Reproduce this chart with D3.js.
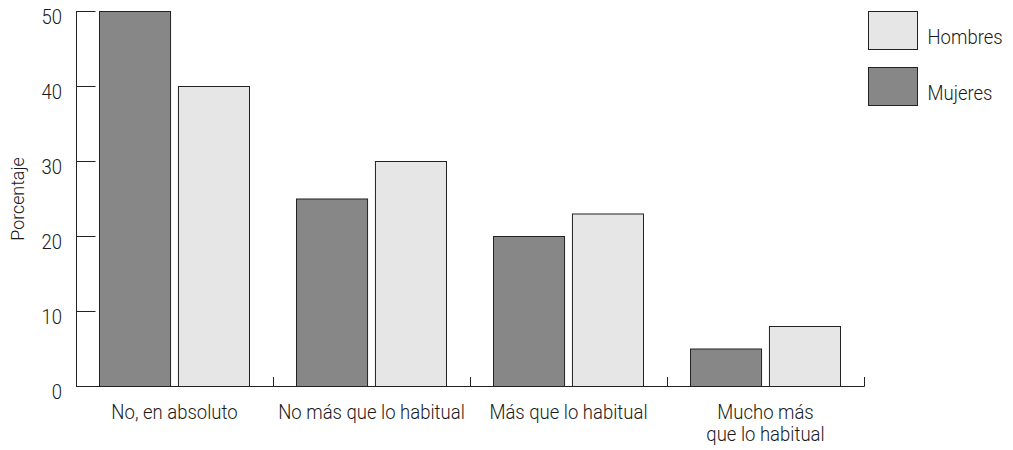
<!DOCTYPE html>
<html><head><meta charset="utf-8">
<script src="https://cdn.jsdelivr.net/npm/d3@7"></script>
<style>
body{margin:0;background:#fff;}
text{font-family:Roboto,"Liberation Sans",sans-serif;font-weight:300;fill:#1a1a1a;}
</style></head>
<body><svg id="c" width="1013" height="450"></svg>
<script>
const categories = [["No, en absoluto"], ["No más que lo habitual"], ["Más que lo habitual"], ["Mucho más", "que lo habitual"]];
const seriesNames = ["Mujeres", "Hombres"];
const mujeres = [50, 25, 20, 5];
const hombres = [40, 30, 23, 8];
const yTicks = [0, 10, 20, 30, 40, 50];
const yLabel = "Porcentaje";
const legendOrder = ["Hombres", "Mujeres"];

(function () {
const colors = {Mujeres: "#878787", Hombres: "#e6e6e6"};
const svg = d3.select("#c");
const mLeft = 76, mRight = 864, mTop = 11, mBottom = 386;
const fs = 19.5, sx = 0.95;

const x0 = d3.scaleBand().domain(d3.range(categories.length)).range([mLeft, mRight]).paddingInner(0).paddingOuter(0);
const x1 = d3.scaleBand().domain(seriesNames).range([23, x0.bandwidth() - 24]).paddingInner(0.1).paddingOuter(0);
const y = d3.scaleLinear().domain([0, 50]).range([mBottom, mTop]);

const data = categories.map((c, i) => ({i, vals: [{k: "Mujeres", v: mujeres[i]}, {k: "Hombres", v: hombres[i]}]}));

svg.append("g").selectAll("g.cat").data(data).join("g").attr("class", "cat")
  .attr("transform", d => `translate(${x0(d.i)},0)`)
  .selectAll("rect").data(d => d.vals).join("rect")
  .attr("x", d => x1(d.k) + 0.5).attr("width", x1.bandwidth())
  .attr("y", d => y(d.v) + 0.5).attr("height", d => y(0) - y(d.v))
  .attr("fill", d => colors[d.k]).attr("stroke", "#222").attr("stroke-width", 1);

const yAxis = d3.axisRight(y).tickValues(yTicks).tickSize(19).tickFormat("");
const ya = svg.append("g").attr("transform", `translate(${mLeft + 0.5},0)`).call(yAxis);
ya.select(".domain").remove();
ya.selectAll(".tick line").attr("stroke", "#222");
svg.append("line").attr("x1", mLeft + 0.5).attr("x2", mLeft + 0.5).attr("y1", mTop).attr("y2", mBottom + 0.5).attr("stroke", "#222");
svg.append("g").selectAll("text").data(yTicks).join("text")
  .attr("transform", d => `translate(62,${y(d) + 13}) scale(${sx},1)`)
  .attr("text-anchor", "end").attr("font-size", fs).text(d => d);

const bounds = d3.range(1, categories.length + 1).map(i => x0(i - 1) + x0.bandwidth());
svg.append("line").attr("x1", mLeft).attr("x2", mRight + 0.5).attr("y1", mBottom + 0.5).attr("y2", mBottom + 0.5).attr("stroke", "#222");
svg.append("g").selectAll("line").data(bounds).join("line")
  .attr("x1", d => Math.round(d) + 0.5).attr("x2", d => Math.round(d) + 0.5)
  .attr("y1", mBottom - 9).attr("y2", mBottom + 0.5).attr("stroke", "#222");

svg.append("g").selectAll("text").data(categories.map((c, i) => ({c, i}))).join("text")
  .attr("transform", d => `translate(${x0(d.i) + x0.bandwidth() / 2},418.5) scale(${sx},1)`)
  .attr("text-anchor", "middle").attr("font-size", fs)
  .selectAll("tspan").data(d => d.c.map((t, j) => ({t, j}))).join("tspan")
  .attr("x", 0).attr("dy", d => d.j === 0 ? 0 : 23).text(d => d.t);

svg.append("text").attr("transform", `translate(24,199) rotate(-90)`)
  .attr("text-anchor", "middle").attr("font-size", 17.8).text(yLabel);

const lg = svg.append("g").selectAll("g").data(legendOrder).join("g")
  .attr("transform", (d, i) => `translate(868.5,${11.5 + i * 56})`);
lg.append("rect").attr("width", 49).attr("height", 38).attr("fill", d => colors[d]).attr("stroke", "#222");
lg.append("text").attr("transform", `translate(59,32) scale(${sx},1)`).attr("font-size", fs).text(d => d);
})();
</script></body></html>
